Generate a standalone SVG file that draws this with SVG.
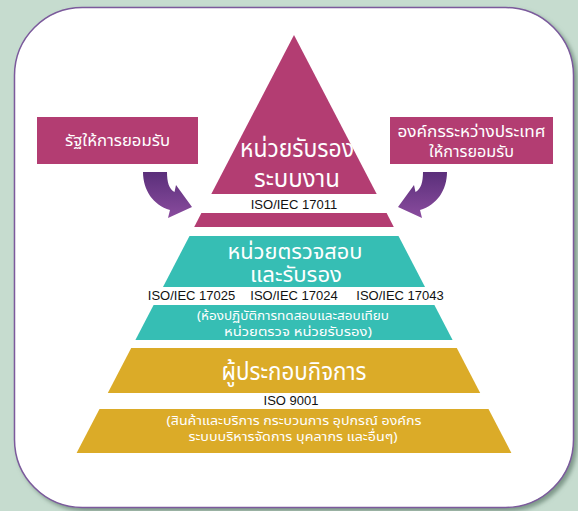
<svg xmlns="http://www.w3.org/2000/svg" width="578" height="511" viewBox="0 0 578 511">
<defs>
<filter id="sh" x="-5%" y="-5%" width="115%" height="115%">
<feDropShadow dx="3" dy="3" stdDeviation="2" flood-color="#5f7a6a" flood-opacity="0.7"/>
</filter>
<linearGradient id="ag" x1="0" y1="0" x2="0" y2="1">
<stop offset="0" stop-color="#5a2f7a"/>
<stop offset="1" stop-color="#8a4c9e"/>
</linearGradient>
<path id="arr" d="M143,172 H167 C167,182 169,189 174.5,192 L176,185 L192,207 L168,218 L170,210 C153,205 143,190 143,172 Z"/>
</defs>
<style>
.pink{fill:#b33d72}
.teal{fill:#36beb4}
.gold{fill:#dbab28}
.th{font-family:"Noto Sans Thai","Noto Sans","Liberation Sans",sans-serif;fill:#fff;text-anchor:middle}
.big{font-size:25px}
.tb{font-size:21px}
.mid{font-size:15px}
.sm{font-size:12.5px}
.iso{font-family:"Liberation Sans",Arial,sans-serif;font-size:13px;fill:#111;text-anchor:middle}
</style>
<rect width="578" height="511" fill="#c6dccf"/>
<rect x="14.5" y="7.5" width="559" height="500" rx="68" fill="#fff" stroke="#7b5a9c" stroke-width="1.5" filter="url(#sh)"/>

<g id="connectors">
<use href="#arr" fill="url(#ag)"/>
<use href="#arr" fill="url(#ag)" transform="translate(590,0) scale(-1,1)"/>
</g>

<g id="box-left">
<rect x="37" y="117" width="161" height="47" class="pink"/>
<text x="117.5" y="146" class="th mid" textLength="105" lengthAdjust="spacingAndGlyphs">รัฐให้การยอมรับ</text>
</g>
<g id="box-right">
<rect x="390" y="117" width="163" height="47" class="pink"/>
<text x="471.5" y="137" class="th mid" textLength="148" lengthAdjust="spacingAndGlyphs">องค์กรระหว่างประเทศ</text>
<text x="471.5" y="157" class="th mid" textLength="85" lengthAdjust="spacingAndGlyphs">ให้การยอมรับ</text>
</g>

<g id="level-accreditation">
<polygon points="294,35 376.7,194 211.3,194" class="pink"/>
<text x="297" y="157" class="th big" textLength="114" lengthAdjust="spacingAndGlyphs">หน่วยรับรอง</text>
<text x="297" y="187" class="th big" textLength="86" lengthAdjust="spacingAndGlyphs">ระบบงาน</text>
<text x="294" y="209" class="iso">ISO/IEC 17011</text>
<polygon points="201.4,213 386.6,213 393.8,227 194.2,227" class="pink"/>
</g>

<g id="level-conformity">
<polygon points="189.5,236 398.5,236 425,287 163,287" class="teal"/>
<text x="295" y="259" class="th tb" textLength="135" lengthAdjust="spacingAndGlyphs">หน่วยตรวจสอบ</text>
<text x="296" y="282" class="th tb" textLength="92" lengthAdjust="spacingAndGlyphs">และรับรอง</text>
<text x="191.5" y="300" class="iso">ISO/IEC 17025</text>
<text x="294" y="300" class="iso">ISO/IEC 17024</text>
<text x="400" y="300" class="iso">ISO/IEC 17043</text>
<polygon points="153.6,305 434.4,305 452.6,340 135.4,340" class="teal"/>
<text x="293" y="320" class="th sm" textLength="192" lengthAdjust="spacingAndGlyphs">(ห้องปฏิบัติการทดสอบและสอบเทียบ</text>
<text x="298" y="336" class="th sm" textLength="148" lengthAdjust="spacingAndGlyphs">หน่วยตรวจ หน่วยรับรอง)</text>
</g>

<g id="level-operator">
<polygon points="131.2,348 456.8,348 480.2,393 107.8,393" class="gold"/>
<text x="294" y="380" class="th big" textLength="145" lengthAdjust="spacingAndGlyphs">ผู้ประกอบกิจการ</text>
<text x="291" y="405" class="iso">ISO 9001</text>
<polygon points="99.5,409 488.5,409 511.4,453 76.6,453" class="gold"/>
<text x="294" y="425" class="th sm" textLength="255" lengthAdjust="spacingAndGlyphs">(สินค้าและบริการ กระบวนการ อุปกรณ์ องค์กร</text>
<text x="293" y="441" class="th sm" textLength="209" lengthAdjust="spacingAndGlyphs">ระบบบริหารจัดการ บุคลากร และอื่นๆ)</text>
</g>
</svg>
